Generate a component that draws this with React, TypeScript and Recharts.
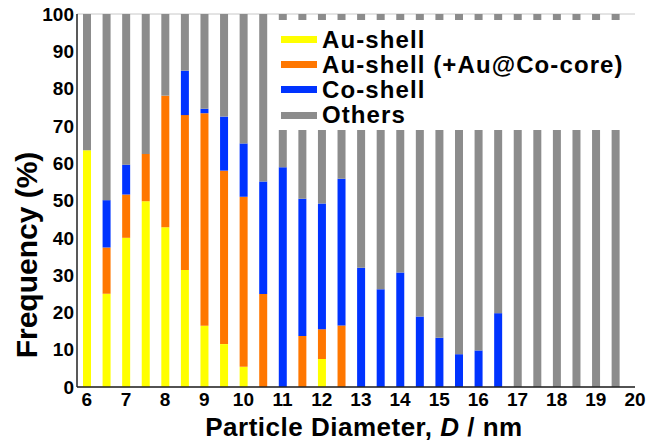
import React from 'react';
import { ComposedChart, Bar, XAxis, YAxis, CartesianGrid, Legend } from 'recharts';

const FONT = '"Liberation Sans", Arial, Helvetica, sans-serif';

const diameters = [6, 6.5, 7, 7.5, 8, 8.5, 9, 9.5, 10, 10.5, 11, 11.5, 12, 12.5, 13, 13.5, 14, 14.5, 15, 15.5, 16, 16.5, 17, 17.5, 18, 18.5, 19, 19.5];
const auShell = [63.5, 25, 40, 49.8, 42.8, 31.4, 16.4, 11.5, 5.4, 0, 0, 0, 7.5, 0, 0, 0, 0, 0, 0, 0, 0, 0, 0, 0, 0, 0, 0, 0];
const auShellCore = [0, 12.4, 11.6, 12.7, 35.3, 41.5, 57.0, 46.5, 45.6, 24.9, 0, 13.7, 8.0, 16.5, 0, 0, 0, 0, 0, 0, 0, 0, 0, 0, 0, 0, 0, 0];
const coShell = [0, 12.7, 8.0, 0, 0, 11.9, 1.2, 14.5, 14.3, 30.2, 58.9, 36.8, 33.7, 39.3, 32.0, 26.2, 30.7, 18.9, 13.2, 8.8, 9.8, 19.8, 0, 0, 0, 0, 0, 0];
const others = [36.5, 49.9, 40.4, 37.5, 21.9, 15.2, 25.4, 27.5, 34.7, 44.9, 41.1, 49.5, 50.8, 44.2, 68.0, 73.8, 69.3, 81.1, 86.8, 91.2, 90.2, 80.2, 100, 100, 100, 100, 100, 100];

const xTicks = [6, 7, 8, 9, 10, 11, 12, 13, 14, 15, 16, 17, 18, 19, 20];
const minorTicks = [5.75, 6.25, 6.75, 7.25, 7.75, 8.25, 8.75, 9.25, 9.75, 10.25, 10.75, 11.25, 11.75, 12.25, 12.75, 13.25, 13.75, 14.25, 14.75, 15.25, 15.75, 16.25, 16.75, 17.25, 17.75, 18.25, 18.75, 19.25, 19.75];
const yTicks = [0, 10, 20, 30, 40, 50, 60, 70, 80, 90, 100];

const seriesNames = ['Au-shell', 'Au-shell (+Au@Co-core)', 'Co-shell', 'Others'];
const seriesColors = ['#ffff00', '#ff7700', '#0033ff', '#8c8c8c'];

const data = diameters.map((d, i) => ({
  d,
  au: auShell[i],
  auc: auShellCore[i],
  co: coShell[i],
  ot: others[i],
}));

const LegendBox = () => (
  <div style={{ paddingTop: 7, paddingLeft: 13, fontFamily: FONT }}>
    {seriesNames.map((n, i) => (
      <div key={n} style={{ display: 'flex', alignItems: 'center', height: 25.2 }}>
        <div style={{ width: 36, height: 7, background: seriesColors[i], marginRight: 5, flexShrink: 0 }} />
        <span style={{ fontSize: 24, fontWeight: 'bold', color: '#000', lineHeight: '24px', letterSpacing: 1.1, whiteSpace: 'nowrap' }}>{n}</span>
      </div>
    ))}
  </div>
);

export default function App() {
  return (
    <div style={{ position: 'absolute', left: 0, top: 0, width: 647, height: 443, background: '#fff' }}>
      <ComposedChart width={647} height={443} data={data} margin={{ top: 14, right: 12, bottom: 0, left: 0 }}>
        <CartesianGrid vertical={false} stroke="#c8c8c8" strokeWidth={1} />
        <XAxis
          xAxisId="minor"
          type="number"
          dataKey="d"
          domain={[5.75, 20]}
          ticks={minorTicks}
          allowDataOverflow
          height={0}
          mirror
          tick={false}
          tickSize={3}
          axisLine={false}
          tickLine={{ stroke: '#222', strokeWidth: 1.5 }}
        />
        <XAxis
          xAxisId="main"
          type="number"
          dataKey="d"
          domain={[5.75, 20]}
          ticks={xTicks}
          allowDataOverflow
          height={56}
          tickLine={false}
          tickSize={0}
          tickMargin={6}
          axisLine={{ stroke: '#222', strokeWidth: 1.5 }}
          tick={{ fontSize: 19, fontWeight: 'bold', fill: '#000', fontFamily: FONT }}
          interval={0}
        />
        <XAxis
          xAxisId="top"
          orientation="top"
          type="number"
          dataKey="d"
          domain={[5.75, 20]}
          height={0}
          tick={false}
          tickLine={false}
          axisLine={{ stroke: '#222', strokeWidth: 1.5 }}
        />
        <YAxis
          yAxisId="main"
          type="number"
          domain={[0, 100]}
          ticks={yTicks}
          width={77}
          tickLine={false}
          tickSize={0}
          tickMargin={3}
          interval={0}
          axisLine={{ stroke: '#222', strokeWidth: 1.5 }}
          tick={{ fontSize: 19, fontWeight: 'bold', fill: '#000', fontFamily: FONT }}
        />
        <YAxis
          yAxisId="right"
          orientation="right"
          type="number"
          domain={[0, 100]}
          width={0}
          tick={false}
          tickLine={false}
          axisLine={{ stroke: '#222', strokeWidth: 1.5 }}
        />
        <Bar xAxisId="main" yAxisId="main" dataKey="au" stackId="a" fill={seriesColors[0]} barSize={8} isAnimationActive={false} />
        <Bar xAxisId="main" yAxisId="main" dataKey="auc" stackId="a" fill={seriesColors[1]} barSize={8} isAnimationActive={false} />
        <Bar xAxisId="main" yAxisId="main" dataKey="co" stackId="a" fill={seriesColors[2]} barSize={8} isAnimationActive={false} />
        <Bar xAxisId="main" yAxisId="main" dataKey="ot" stackId="a" fill={seriesColors[3]} barSize={8} isAnimationActive={false} />
        <Legend
          layout="horizontal"
          verticalAlign="middle"
          align="center"
          content={<LegendBox />}
          wrapperStyle={{ position: 'absolute', top: 20, left: 268, width: 366, height: 110, background: '#fff' }}
        />
        <text
          x={364}
          y={436}
          textAnchor="middle"
          style={{ fontFamily: FONT, fontSize: 26, fontWeight: 'bold', fill: '#000', letterSpacing: 0.5 }}
        >
          Particle Diameter, <tspan fontStyle="italic">D</tspan> / nm
        </text>
        <text
          x={37}
          y={255}
          transform="rotate(-90 37 255)"
          textAnchor="middle"
          style={{ fontFamily: FONT, fontSize: 30, fontWeight: 'bold', fill: '#000' }}
        >
          Frequency (%)
        </text>
      </ComposedChart>
    </div>
  );
}
